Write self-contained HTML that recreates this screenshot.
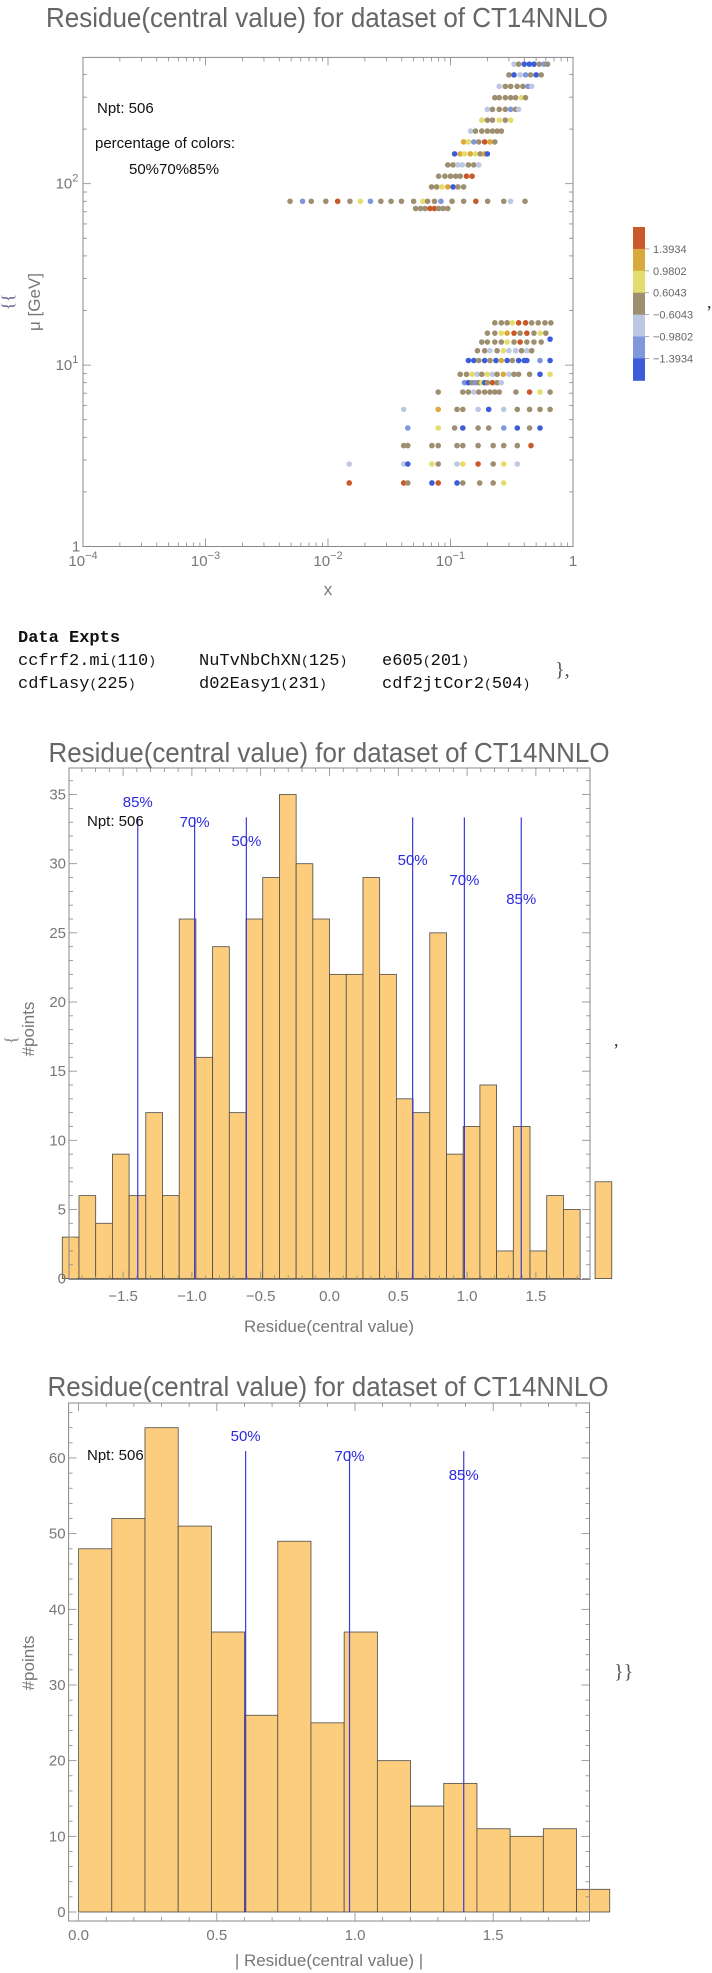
<!DOCTYPE html>
<html><head><meta charset="utf-8"><style>
html,body{margin:0;padding:0;background:#fff;}
svg{display:block;font-family:"Liberation Sans",sans-serif;}
.mono{font-family:"Liberation Mono",monospace;}
</style></head><body>
<svg id="page" width="712" height="1973" viewBox="0 0 712 1973" xmlns="http://www.w3.org/2000/svg">
<g id="c1"></g>
<g id="txt" class="mono" font-size="17" fill="#111">
  <text x="18" y="642" font-weight="bold">Data Expts</text>
  <text x="18" y="665">ccfrf2.mi<tspan font-size="13">(</tspan>110<tspan font-size="13">)</tspan></text>
  <text x="199" y="665">NuTvNbChXN<tspan font-size="13">(</tspan>125<tspan font-size="13">)</tspan></text>
  <text x="382" y="665">e605<tspan font-size="13">(</tspan>201<tspan font-size="13">)</tspan></text>
  <text x="18" y="688">cdfLasy<tspan font-size="13">(</tspan>225<tspan font-size="13">)</tspan></text>
  <text x="199" y="688">d02Easy1<tspan font-size="13">(</tspan>231<tspan font-size="13">)</tspan></text>
  <text x="382" y="688">cdf2jtCor2<tspan font-size="13">(</tspan>504<tspan font-size="13">)</tspan></text>
  <text x="555" y="676" font-family="Liberation Serif" font-size="20" fill="#555">},</text>
</g>
<g id="c2"></g>
<g id="c3"></g>
</svg>
<script>
// ---------- Chart 1 data ----------
const rowMu = [456,398,344,298,257,224,195,170,146,127,110,96,80,73,
  17.1,15.0,13.9,13.4,12.0,10.6,8.9,8.0,7.1,5.7,4.5,3.6,2.85,2.24];
const rowX = [
 [0.33,0.36,0.40,0.44,0.48,0.53,0.58,0.62],
 [0.30,0.33,0.37,0.41,0.45,0.50,0.55],
 [0.25,0.28,0.31,0.35,0.39,0.43,0.46],
 [0.23,0.25,0.28,0.31,0.34,0.38,0.41],
 [0.20,0.22,0.25,0.28,0.31,0.34,0.36],
 [0.18,0.20,0.22,0.25,0.28,0.31],
 [0.146,0.16,0.18,0.20,0.22,0.24,0.26],
 [0.128,0.14,0.155,0.17,0.19,0.21,0.23],
 [0.108,0.12,0.13,0.145,0.16,0.175,0.19,0.20],
 [0.095,0.105,0.115,0.125,0.14,0.155,0.17],
 [0.08,0.09,0.10,0.11,0.12,0.135,0.15],
 [0.07,0.077,0.085,0.095,0.105,0.115,0.128],
 [0.0049,0.0062,0.0073,0.0096,0.012,0.0151,0.0184,0.0222,0.027,0.0327,0.0398,0.05,0.0594,0.065,0.074,0.0836,0.103,0.128,0.161,0.201,0.272,0.309,0.406],
 [0.052,0.057,0.062,0.068,0.074,0.08,0.087,0.095],
 [0.23,0.26,0.29,0.32,0.36,0.41,0.46,0.52,0.59,0.66],
 [0.20,0.23,0.26,0.29,0.33,0.37,0.42,0.48,0.54,0.60],
 [0.65],
 [0.18,0.20,0.23,0.26,0.29,0.33,0.37,0.42,0.48,0.55],
 [0.166,0.19,0.21,0.24,0.27,0.30,0.34,0.38,0.42,0.46],
 [0.14,0.155,0.17,0.19,0.21,0.235,0.26,0.29,0.32,0.36,0.40,0.42,0.538,0.65],
 [0.12,0.135,0.15,0.165,0.18,0.20,0.22,0.24,0.27,0.30,0.33,0.36,0.442,0.538,0.65],
 [0.13,0.14,0.15,0.16,0.17,0.18,0.19,0.20,0.22,0.24,0.26],
 [0.0794,0.126,0.14,0.155,0.17,0.19,0.21,0.23,0.25,0.342,0.442,0.538,0.65],
 [0.0415,0.0794,0.113,0.126,0.168,0.205,0.272,0.351,0.442,0.538,0.65],
 [0.0448,0.0794,0.108,0.126,0.168,0.205,0.272,0.351,0.442,0.538],
 [0.0415,0.0448,0.0705,0.0794,0.113,0.126,0.168,0.223,0.272,0.351,0.454],
 [0.0149,0.0415,0.0448,0.0705,0.0794,0.113,0.126,0.168,0.223,0.272,0.351],
 [0.0149,0.0415,0.0448,0.0705,0.0794,0.113,0.126,0.173,0.223,0.272]
];
const rowRes = [
 [-0.8,0.2,-1.5,-1.6,-1.5,0.3,-1.0,0.1],
 [0.1,-1.5,-0.8,-1.0,0.2,-1.5,0.3],
 [-0.8,0.3,0.1,-0.2,0.2,-1.0,-0.7],
 [0.3,-0.1,0.2,0.4,-0.3,0.8,0.1],
 [-0.8,0.2,0.1,-0.3,-1.0,0.3,-0.7],
 [0.8,-0.2,0.3,0.9,0.2,0.7],
 [-0.8,0.2,-0.1,0.3,0.4,0.1,0.2],
 [1.1,0.7,-1.0,0.3,1.5,1.2,0.2],
 [-1.5,1.1,0.9,1.1,0.8,0.2,1.2,-1.5],
 [-0.2,0.3,-0.8,-0.7,0.2,0.1,-0.8],
 [0.3,0.1,0.4,-0.2,0.2,1.5,1.4],
 [0.3,0.2,0.9,1.0,-1.5,0.2,-0.1],
 [0.2,-1.0,0.1,0.3,1.6,0.2,0.8,-1.0,0.1,0.2,0.3,0.1,0.9,0.2,-0.3,-1.0,0.2,0.3,1.6,0.2,0.1,-0.8,0.1],
 [0.2,0.3,0.1,1.5,1.6,0.2,0.3,0.1],
 [0.2,0.3,0.1,0.9,1.6,1.5,0.2,0.1,0.3,0.2],
 [0.3,0.2,0.8,1.1,1.6,0.1,1.5,0.2,0.9,0.3],
 [-1.5],
 [0.2,0.1,0.3,0.2,0.9,-0.2,1.6,0.1,0.3,0.2],
 [0.3,0.2,-0.8,0.1,0.8,-0.7,-0.8,0.2,-0.9,0.1],
 [-1.5,-1.6,0.2,-1.5,0.3,-1.5,1.2,-1.5,0.1,-1.5,-1.6,-1.5,-1.0,-1.5],
 [0.2,0.1,0.9,-0.8,0.3,0.8,-0.7,0.2,1.0,-0.8,0.1,0.2,0.3,-1.5,0.9],
 [-1.0,-1.5,0.2,-1.0,0.3,0.9,-1.5,0.2,1.6,0.3,-0.8],
 [0.2,0.3,0.1,-0.8,0.2,0.3,0.1,0.2,0.3,0.2,1.6,0.9,0.2],
 [-0.8,1.1,0.2,0.3,-0.8,-1.5,-0.8,0.2,0.1,0.3,0.2],
 [-1.0,0.9,0.2,-1.5,0.2,0.3,-1.0,-1.5,0.2,-1.5],
 [0.2,0.3,0.2,0.1,0.3,0.2,0.3,0.2,0.1,0.2,1.6],
 [-0.8,-0.7,-1.5,0.9,0.2,-0.8,0.9,1.6,0.2,0.8,-0.8],
 [1.6,1.6,0.2,-1.5,1.6,-1.5,0.3,0.2,0.2,0.8]
];
const cbLabels = ["1.3934","0.9802","0.6043","\u22120.6043","\u22120.9802","\u22121.3934"];
const cbThresholds = [1.3934,0.9802,0.6043,-0.6043,-0.9802,-1.3934];
const cbColors = ["#c9582b","#d9a93c","#e4dc6c","#9d8f70","#bcc8e2","#8097dc","#3c5cd8"];
// ---------- Chart 2 data ----------
const h2Start = -1.942, h2Width = 0.1214;
const h2Counts = [3,6,4,9,6,12,6,26,16,24,12,26,29,35,30,26,22,22,29,22,13,12,25,9,11,14,2,11,2,6,5];
const h2OverflowStart = 1.93, h2OverflowCount = 7;
const h2Lines = [-1.3934,-0.9802,-0.6043,0.6043,0.9802,1.3934];
const h2LineLabels = ["85%","70%","50%","50%","70%","85%"];
const h2LabelY = [801,821,840,859,879,898];
const h2YTicks = [0,5,10,15,20,25,30,35];
const h2XTicks = [-1.5,-1.0,-0.5,0.0,0.5,1.0,1.5];
// ---------- Chart 3 data ----------
const h3Start = 0, h3Width = 0.1201;
const h3Counts = [48,52,64,51,37,26,49,25,37,20,14,17,11,10,11,3];
const h3Lines = [0.6043,0.9802,1.3934];
const h3LineLabels = ["50%","70%","85%"];
const h3LabelY = [1435,1455,1474];
const h3YTicks = [0,10,20,30,40,50,60];
const h3XTicks = [0.0,0.5,1.0,1.5];

const NS="http://www.w3.org/2000/svg";
function mk(tag,parent,attrs){const e=document.createElementNS(NS,tag);for(const k in attrs)e.setAttribute(k,attrs[k]);parent.appendChild(e);return e;}
function txt(parent,x,y,s,attrs){const e=mk('text',parent,Object.assign({x:x,y:y},attrs||{}));e.textContent=s;return e;}

// ===== Chart 1 =====
(function(){
const g=document.getElementById('c1');
const L=83,R=573,T=57.4,B=546.5;
const X=x=>L+(Math.log10(x)+4)*122.5;
const Y=m=>B-Math.log10(m)*181.4;
let t=txt(g,327,27,"Residue(central value) for dataset of CT14NNLO",{'font-size':28,fill:'#666','text-anchor':'middle',textLength:562,lengthAdjust:'spacingAndGlyphs'});


let f=mk('rect',g,{x:L,y:T,width:R-L,height:B-T,fill:'none',stroke:'#888','stroke-width':1});


const tk=mk('g',g,{stroke:'#888','stroke-width':0.8});


for(let d=-4;d<0;d++){for(let k=1;k<10;k++){const xx=X(k*Math.pow(10,d));const len=k==1?8:4;
 mk('line',tk,{x1:xx,y1:B,x2:xx,y2:B-len});mk('line',tk,{x1:xx,y1:T,x2:xx,y2:T+len});}}
for(let d=0;d<3;d++){for(let k=1;k<10;k++){const v=k*Math.pow(10,d);const yy=Y(v);if(yy<T)continue;const len=k==1?8:4;
 mk('line',tk,{x1:L,y1:yy,x2:L+len,y2:yy});mk('line',tk,{x1:R,y1:yy,x2:R-len,y2:yy});}}
const xl=[[-4,"10","\u22124"],[-3,"10","\u22123"],[-2,"10","\u22122"],[-1,"10","\u22121"],[0,"1",""]];
xl.forEach(a=>{const e=txt(g,X(Math.pow(10,a[0])),566,a[1],{'font-size':15,fill:'#777','text-anchor':'middle'});
 
 
 if(a[2]){const s=mk('tspan',e,{dy:-7,'font-size':11});s.textContent=a[2];}});
const yl=[[1,"1",""],[10,"10","1"],[100,"10","2"]];
yl.forEach(a=>{const e=txt(g,a[2]?67:76,Y(a[0])+5,a[1],{'font-size':15,fill:'#777','text-anchor':'middle'});
 
 
 if(a[2]){const s=mk('tspan',e,{dy:-7,'font-size':11});s.textContent=a[2];}});
t=txt(g,328,595,"x",{'font-size':17,fill:'#777','text-anchor':'middle'});


t=txt(g,0,0,"\u03bc [GeV]",{'font-size':17,fill:'#777','text-anchor':'middle',transform:'translate(40,302) rotate(-90)','font-style':'normal'});


t=txt(g,0,0,"{{",{'font-size':17,fill:'#558','text-anchor':'middle',transform:'translate(13,302) rotate(-90)','font-family':'Liberation Serif'});


t=txt(g,97,113,"Npt: 506",{'font-size':15,fill:'#111'});


t=txt(g,95,148,"percentage of colors:",{'font-size':15,fill:'#111'});


t=txt(g,129,174,"50%70%85%",{'font-size':15,fill:'#111'});


function col(r){for(let i=0;i<cbThresholds.length;i++){if(r>=cbThresholds[i])return cbColors[i];}return cbColors[6];}
const pts=mk('g',g,{});


rowMu.forEach((m,i)=>{rowX[i].forEach((x,j)=>{const c=mk('circle',pts,{cx:X(x),cy:Y(m),r:2.8,fill:col(rowRes[i][j])});
 
 });});
// colorbar
const cb=mk('g',g,{});


const segH=21.9, cbTop=227;
cbColors.forEach((c,i)=>{const r=mk('rect',cb,{x:633,y:cbTop+i*segH,width:12,height:segH+0.5,fill:c});
 
 });
cbLabels.forEach((s,i)=>{const yy=cbTop+(i+1)*segH;mk('line',cb,{x1:645,y1:yy,x2:649,y2:yy,stroke:'#999','stroke-width':0.8});
 const e=txt(cb,653,yy+4,s,{'font-size':11,fill:'#666'});
 
 });
t=txt(g,707,308,",",{'font-size':18,fill:'#333','font-family':'Liberation Serif'});


})();

// ===== Histogram helper =====
function hist(gid,cfg){
const g=document.getElementById(gid);
const {L,R,T,B,X,Y}=cfg;
let t=txt(g,cfg.titleX,cfg.titleY,"Residue(central value) for dataset of CT14NNLO",{'font-size':28,fill:'#666','text-anchor':'middle',textLength:561,lengthAdjust:'spacingAndGlyphs'});


const bars=mk('g',g,{fill:'#fccd7d',stroke:'#4a4a4a','stroke-width':0.8});


cfg.counts.forEach((c,i)=>{const x0=X(cfg.start+i*cfg.width),x1=X(cfg.start+(i+1)*cfg.width);
 const r=mk('rect',bars,{x:x0,y:Y(c),width:x1-x0,height:Y(0)-Y(c)});
 
 });
if(cfg.overflow){const x0=X(cfg.overflow[0]),x1=X(cfg.overflow[0]+cfg.width);
 const r=mk('rect',bars,{x:x0,y:Y(cfg.overflow[1]),width:x1-x0,height:Y(0)-Y(cfg.overflow[1])});
 
 }
let f=mk('rect',g,{x:L,y:T,width:R-L,height:B-T,fill:'none',stroke:'#888','stroke-width':1});


const tk=mk('g',g,{stroke:'#888','stroke-width':0.8});


const ys=cfg.yTicks, ystep=ys[1]-ys[0];
for(let v=0;Y(v)>=T;v+=ystep/5){const yy=Y(v);const maj=Math.abs(v/ystep-Math.round(v/ystep))<1e-6;const len=maj?8:4;
 mk('line',tk,{x1:L,y1:yy,x2:L+len,y2:yy});mk('line',tk,{x1:R,y1:yy,x2:R-len,y2:yy});}
const xs=cfg.xTicks, xstep=xs[1]-xs[0];
for(let v=-4;v<=4;v+=xstep/5){const xx=X(v);if(xx<L||xx>R)continue;const maj=Math.abs(v/xstep-Math.round(v/xstep))<1e-6;const len=maj?8:4;
 mk('line',tk,{x1:xx,y1:B,x2:xx,y2:B-len});mk('line',tk,{x1:xx,y1:T,x2:xx,y2:T+len});}
ys.forEach(v=>{const e=txt(g,L-3,Y(v)+5,String(v),{'font-size':15,fill:'#777','text-anchor':'end'});
 
 });
xs.forEach(v=>{const s=(v<0?'\u2212':'')+Math.abs(v).toFixed(1);const e=txt(g,X(v),cfg.xTickY,s,{'font-size':15,fill:'#777','text-anchor':'middle'});
 
 });
const ln=mk('g',g,{});


cfg.lines.forEach((v,i)=>{const l=mk('line',ln,{x1:X(v),y1:Y(0),x2:X(v),y2:Y(cfg.lineTop),stroke:'#3a3ad8','stroke-width':1.2});
 
 
 const e=txt(ln,X(v),cfg.labelY[i]+6,cfg.lineLabels[i],{'font-size':15,fill:'#2a2ae0','text-anchor':'middle'});
 
 });
t=txt(g,87,cfg.nptY+6,"Npt: 506",{'font-size':15,fill:'#111'});


t=txt(g,0,0,"#points",{'font-size':17,fill:'#777','text-anchor':'middle',transform:'translate('+34+','+cfg.yTitleY+') rotate(-90)'});


t=txt(g,329,cfg.xTitleY,cfg.xTitle,{'font-size':17,fill:'#777','text-anchor':'middle'});


return g;
}

const g2=hist('c2',{L:69,R:590,T:768,B:1279.5,X:v=>329.5+v*137.6,Y:c=>1278.6-c*13.83,titleX:329,titleY:762,
 counts:h2Counts,start:h2Start,width:h2Width,overflow:[h2OverflowStart,h2OverflowCount],yTicks:h2YTicks,xTicks:h2XTicks,xTickY:1301,
 lines:h2Lines,lineTop:33.35,lineLabels:h2LineLabels,labelY:h2LabelY,nptY:820,yTitleY:1029,xTitleY:1332,xTitle:"Residue(central value)"});
let e=txt(g2,0,0,"{",{'font-size':17,fill:'#777','text-anchor':'middle',transform:'translate(16,1040) rotate(-90)','font-family':'Liberation Serif'});


e=txt(g2,614,1046,",",{'font-size':18,fill:'#333','font-family':'Liberation Serif'});



const g3=hist('c3',{L:68.6,R:589.5,T:1403,B:1921,X:v=>78.6+v*276.4,Y:c=>1912-c*7.567,titleX:328,titleY:1396,
 counts:h3Counts,start:h3Start,width:h3Width,overflow:null,yTicks:h3YTicks,xTicks:h3XTicks,xTickY:1940,
 lines:h3Lines,lineTop:60.9,lineLabels:h3LineLabels,labelY:h3LabelY,nptY:1454,yTitleY:1663,xTitleY:1966,xTitle:"| Residue(central value) |"});
e=txt(g3,614,1678,"}}",{'font-size':20,fill:'#555','font-family':'Liberation Serif'});


</script>
</body></html>
